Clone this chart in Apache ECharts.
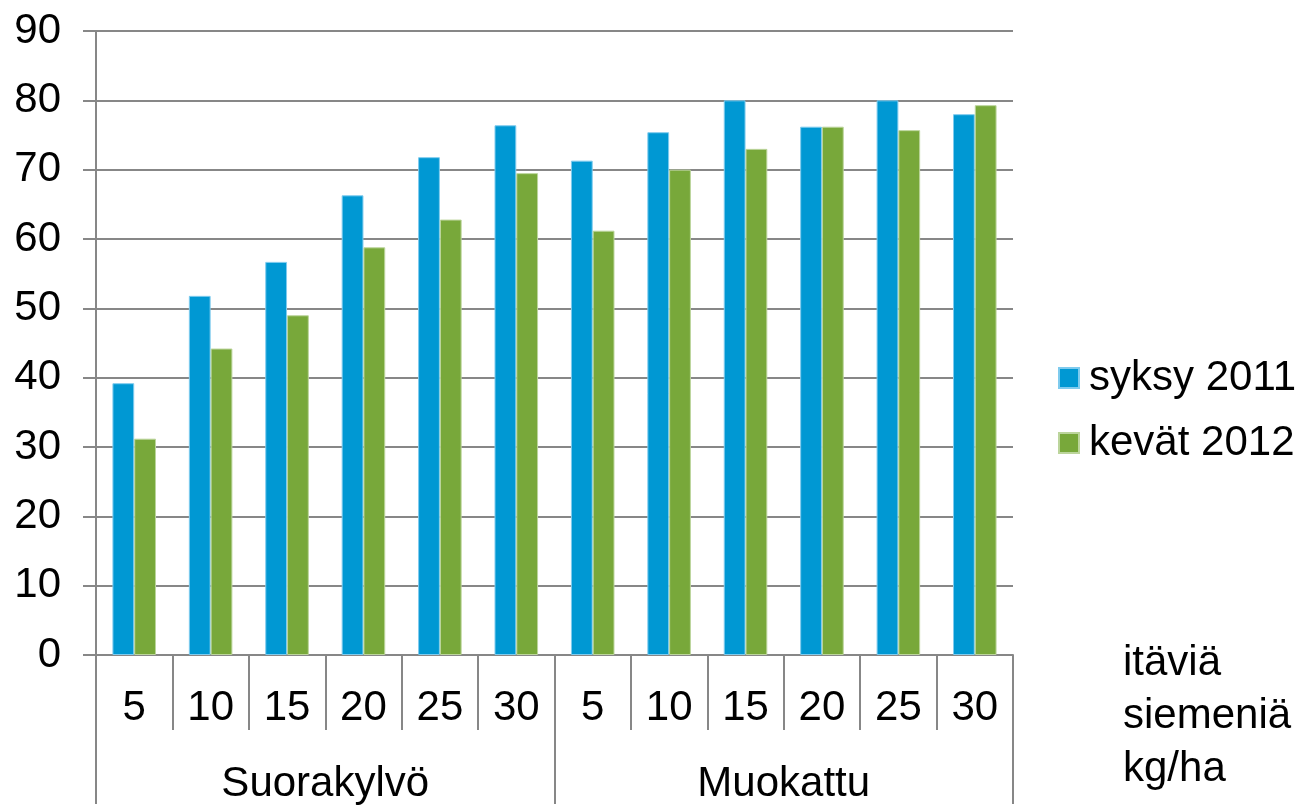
<!DOCTYPE html>
<html>
<head>
<meta charset="utf-8">
<style>
  html, body { margin: 0; padding: 0; background: #fff; }
  #chart { width: 1301px; height: 805px; }
</style>
<script src="https://cdn.jsdelivr.net/npm/echarts@6/dist/echarts.min.js"></script>
</head>
<body>
<div id="chart"></div>
<script>
// Seed rate classes (kg/ha of germinating seed) within each tillage method
const rates = ['5', '10', '15', '20', '25', '30'];
const groups = ['Suorakylvö', 'Muokattu'];
const categories = groups.flatMap(() => rates);

const seriesNames = ['syksy 2011', 'kevät 2012'];
const autumn2011 = [39.2, 51.8, 56.7, 66.3, 71.8, 76.4, 71.3, 75.4, 80.0, 76.2, 80.0, 78.0];
const spring2012 = [31.2, 44.2, 49.0, 58.8, 62.8, 69.5, 61.2, 70.0, 73.0, 76.2, 75.7, 79.3];

const yTicks = { min: 0, max: 90, interval: 10 };
const unitLines = ['itäviä', 'siemeniä', 'kg/ha'];

const FONT = '"Liberation Sans", Arial, sans-serif';
const FS = 42;
const GRID_GREY = '#878787';

const chart = echarts.init(document.getElementById('chart'), null, { renderer: 'canvas' });

chart.setOption({
  backgroundColor: '#ffffff',
  animation: false,
  textStyle: { fontFamily: FONT, color: '#000' },
  grid: { left: 96, right: 288, top: 31, bottom: 149, containLabel: false },
  legend: {
    orient: 'vertical',
    left: 1058,
    top: 354,
    padding: 0,
    itemWidth: 20,
    itemHeight: 20,
    itemGap: 17,
    icon: 'rect',
    textStyle: { fontSize: FS, color: '#000', fontFamily: FONT, lineHeight: 48, padding: [0, 0, 0, 5] },
    data: seriesNames
  },
  xAxis: [
    {
      type: 'category',
      data: categories,
      position: 'bottom',
      axisLine: { lineStyle: { color: GRID_GREY, width: 2 } },
      axisTick: { show: true, alignWithLabel: false, length: 75, lineStyle: { color: GRID_GREY, width: 2 } },
      axisLabel: { fontSize: FS, color: '#000', margin: 32, interval: 0, fontFamily: FONT }
    },
    {
      type: 'category',
      data: groups,
      position: 'bottom',
      axisLine: { show: false },
      axisTick: { show: true, alignWithLabel: false, length: 149, lineStyle: { color: GRID_GREY, width: 2 } },
      axisLabel: { fontSize: FS, color: '#000', margin: 108, interval: 0, fontFamily: FONT }
    }
  ],
  yAxis: {
    type: 'value',
    min: yTicks.min,
    max: yTicks.max,
    interval: yTicks.interval,
    axisLine: { show: true, lineStyle: { color: GRID_GREY, width: 2 } },
    axisTick: { show: true, length: 13, lineStyle: { color: GRID_GREY, width: 2 } },
    axisLabel: { fontSize: FS, color: '#000', margin: 35, fontFamily: FONT },
    splitLine: { show: true, lineStyle: { color: GRID_GREY, width: 2 } }
  },
  graphic: [
    {
      type: 'text',
      left: 1123,
      top: 637,
      style: {
        text: unitLines.join('\n'),
        fontSize: FS,
        lineHeight: 53,
        fill: '#000',
        fontFamily: FONT
      }
    }
  ],
  series: [
    {
      name: seriesNames[0],
      type: 'bar',
      xAxisIndex: 0,
      data: autumn2011,
      barGap: '0%',
      barCategoryGap: '43%',
      itemStyle: { color: '#0098d3', borderColor: '#7fcbee', borderWidth: 1 }
    },
    {
      name: seriesNames[1],
      type: 'bar',
      xAxisIndex: 0,
      data: spring2012,
      barGap: '0%',
      barCategoryGap: '43%',
      itemStyle: { color: '#78a83a', borderColor: '#bcd59c', borderWidth: 1 }
    }
  ]
});
</script>
</body>
</html>
